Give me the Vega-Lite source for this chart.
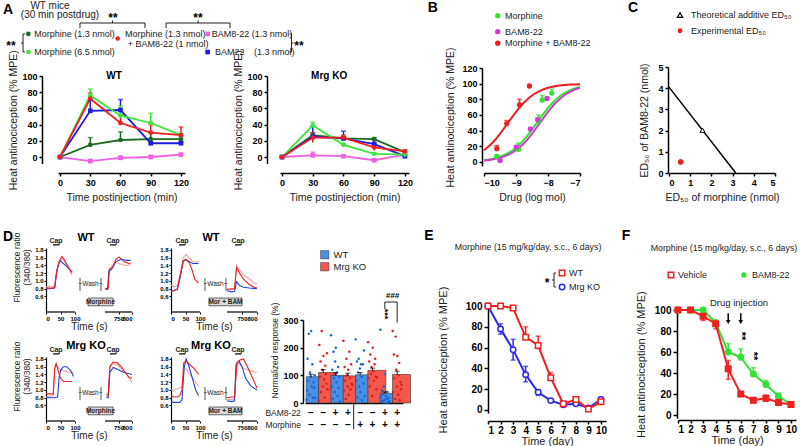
{
"$schema":"https://vega.github.io/schema/vega-lite/v6.json",
"background":"white",
"padding":{"left":2,"top":0,"right":0,"bottom":0},
"config":{
 "font":"Liberation Sans",
 "view":{"stroke":null},
 "axis":{"grid":false,"labelOverlap":false,"tickCount":20,"domainColor":"#000","domainWidth":1.5,"tickColor":"#000","tickWidth":1.5,"tickSize":3,"labelColor":"#000","labelFontWeight":"bold","labelFontSize":9,"labelPadding":2,"titleFontWeight":"normal","titleFontSize":10.5,"titleColor":"#222","labelFont":"Liberation Sans","titleFont":"Liberation Sans"},
 "text":{"font":"Liberation Sans","color":"#222"},
 "title":{"font":"Liberation Sans","color":"#000"},
 "legend":{"labelFont":"Liberation Sans","labelColor":"#222"}
},
"datasets":{
"A":[
{"p":"WT","s":"M13","t":0,"v":0,"lo":0,"hi":0},{"p":"WT","s":"M13","t":30,"v":15,"lo":15,"hi":24},{"p":"WT","s":"M13","t":60,"v":21,"lo":21,"hi":31},{"p":"WT","s":"M13","t":90,"v":22,"lo":22,"hi":30},{"p":"WT","s":"M13","t":120,"v":22,"lo":22,"hi":25},
{"p":"WT","s":"B8","t":0,"v":0,"lo":0,"hi":0},{"p":"WT","s":"B8","t":30,"v":-5,"lo":-5,"hi":-3},{"p":"WT","s":"B8","t":60,"v":-1,"lo":-1,"hi":1},{"p":"WT","s":"B8","t":90,"v":0,"lo":0,"hi":2},{"p":"WT","s":"B8","t":120,"v":3,"lo":3,"hi":4},
{"p":"WT","s":"B22","t":0,"v":0,"lo":0,"hi":0},{"p":"WT","s":"B22","t":30,"v":57,"lo":57,"hi":70},{"p":"WT","s":"B22","t":60,"v":58,"lo":58,"hi":71},{"p":"WT","s":"B22","t":90,"v":17,"lo":17,"hi":22},{"p":"WT","s":"B22","t":120,"v":17,"lo":17,"hi":19},
{"p":"WT","s":"M65","t":0,"v":0,"lo":0,"hi":0},{"p":"WT","s":"M65","t":30,"v":76,"lo":76,"hi":84},{"p":"WT","s":"M65","t":60,"v":51,"lo":51,"hi":63},{"p":"WT","s":"M65","t":90,"v":42,"lo":42,"hi":54},{"p":"WT","s":"M65","t":120,"v":27,"lo":27,"hi":29},
{"p":"WT","s":"MB","t":0,"v":0,"lo":0,"hi":0},{"p":"WT","s":"MB","t":30,"v":72,"lo":72,"hi":79},{"p":"WT","s":"MB","t":60,"v":42,"lo":42,"hi":52},{"p":"WT","s":"MB","t":90,"v":30,"lo":30,"hi":40},{"p":"WT","s":"MB","t":120,"v":27,"lo":27,"hi":37},
{"p":"KO","s":"M13","t":0,"v":0,"lo":0,"hi":0},{"p":"KO","s":"M13","t":30,"v":27,"lo":27,"hi":30},{"p":"KO","s":"M13","t":60,"v":23,"lo":23,"hi":25},{"p":"KO","s":"M13","t":90,"v":22,"lo":22,"hi":24},{"p":"KO","s":"M13","t":120,"v":6,"lo":6,"hi":8},
{"p":"KO","s":"B8","t":0,"v":0,"lo":0,"hi":0},{"p":"KO","s":"B8","t":30,"v":2,"lo":2,"hi":6},{"p":"KO","s":"B8","t":60,"v":1,"lo":1,"hi":2},{"p":"KO","s":"B8","t":90,"v":-4,"lo":-4,"hi":-2},{"p":"KO","s":"B8","t":120,"v":3,"lo":3,"hi":4},
{"p":"KO","s":"B22","t":0,"v":0,"lo":0,"hi":0},{"p":"KO","s":"B22","t":30,"v":25,"lo":25,"hi":38},{"p":"KO","s":"B22","t":60,"v":23,"lo":23,"hi":32},{"p":"KO","s":"B22","t":90,"v":16,"lo":16,"hi":22},{"p":"KO","s":"B22","t":120,"v":1,"lo":1,"hi":2},
{"p":"KO","s":"M65","t":0,"v":0,"lo":0,"hi":0},{"p":"KO","s":"M65","t":30,"v":39,"lo":39,"hi":43},{"p":"KO","s":"M65","t":60,"v":15,"lo":15,"hi":17},{"p":"KO","s":"M65","t":90,"v":4,"lo":4,"hi":5},{"p":"KO","s":"M65","t":120,"v":3,"lo":3,"hi":4},
{"p":"KO","s":"MB","t":0,"v":0,"lo":0,"hi":0},{"p":"KO","s":"MB","t":30,"v":24,"lo":18,"hi":30},{"p":"KO","s":"MB","t":60,"v":24,"lo":24,"hi":27},{"p":"KO","s":"MB","t":90,"v":12,"lo":8,"hi":18},{"p":"KO","s":"MB","t":120,"v":7,"lo":7,"hi":9}
],
"Bc":[
{"s":"Mor","x":-10,"v":2.2},{"s":"Mor","x":-9.75,"v":3.8},{"s":"Mor","x":-9.5,"v":6.6},{"s":"Mor","x":-9.25,"v":11.2},{"s":"Mor","x":-9,"v":18.3},{"s":"Mor","x":-8.75,"v":28.5},{"s":"Mor","x":-8.5,"v":41.5},{"s":"Mor","x":-8.25,"v":55.7},{"s":"Mor","x":-8,"v":69.1},{"s":"Mor","x":-7.75,"v":79.9},{"s":"Mor","x":-7.5,"v":87.6},{"s":"Mor","x":-7.25,"v":92.6},{"s":"Mor","x":-7,"v":95.7},
{"s":"BAM","x":-10,"v":1.7},{"s":"BAM","x":-9.75,"v":3.1},{"s":"BAM","x":-9.5,"v":5.3},{"s":"BAM","x":-9.25,"v":9.1},{"s":"BAM","x":-9,"v":15.1},{"s":"BAM","x":-8.75,"v":24},{"s":"BAM","x":-8.5,"v":36},{"s":"BAM","x":-8.25,"v":50},{"s":"BAM","x":-8,"v":64},{"s":"BAM","x":-7.75,"v":76},{"s":"BAM","x":-7.5,"v":84.9},{"s":"BAM","x":-7.25,"v":90.9},{"s":"BAM","x":-7,"v":94.7},
{"s":"MB","x":-10,"v":15.1},{"s":"MB","x":-9.75,"v":24},{"s":"MB","x":-9.5,"v":36},{"s":"MB","x":-9.25,"v":50},{"s":"MB","x":-9,"v":64},{"s":"MB","x":-8.75,"v":76},{"s":"MB","x":-8.5,"v":84.9},{"s":"MB","x":-8.25,"v":90.9},{"s":"MB","x":-8,"v":94.7},{"s":"MB","x":-7.75,"v":96.9},{"s":"MB","x":-7.5,"v":98.3},{"s":"MB","x":-7.25,"v":99},{"s":"MB","x":-7,"v":99.4}
],
"Bp":[
{"s":"Mor","x":-9.6,"v":7,"hi":9},{"s":"Mor","x":-8.92,"v":16,"hi":24},{"s":"Mor","x":-8.3,"v":52,"hi":60},{"s":"Mor","x":-8.18,"v":79,"hi":85},{"s":"Mor","x":-7.88,"v":88,"hi":93},
{"s":"BAM","x":-9.5,"v":2,"hi":3},{"s":"BAM","x":-8.99,"v":19,"hi":21},{"s":"BAM","x":-8.55,"v":42,"hi":44},{"s":"BAM","x":-8.32,"v":54,"hi":56},{"s":"BAM","x":-8.03,"v":81,"hi":83},
{"s":"MB","x":-9.6,"v":17,"hi":21},{"s":"MB","x":-9.29,"v":49,"hi":53},{"s":"MB","x":-8.89,"v":73,"hi":80},{"s":"MB","x":-8.58,"v":97,"hi":97}
],
"Cl":[{"m":0,"b":4.05},{"m":3.15,"b":0}],
"Cp":[{"k":"Theoretical","m":1.58,"b":2.02},{"k":"Experimental","m":0.55,"b":0.52}],
"D":[
{"p":"TL","c":"c2","g":"a","t":0,"v":0.85},{"p":"TL","c":"c2","g":"a","t":10,"v":0.86},{"p":"TL","c":"c2","g":"a","t":20,"v":0.84},{"p":"TL","c":"c2","g":"a","t":30,"v":0.88},{"p":"TL","c":"c2","g":"a","t":38,"v":1.3},{"p":"TL","c":"c2","g":"a","t":45,"v":1.5},{"p":"TL","c":"c2","g":"a","t":55,"v":1.58},{"p":"TL","c":"c2","g":"a","t":65,"v":1.5},{"p":"TL","c":"c2","g":"a","t":75,"v":1.4},{"p":"TL","c":"c2","g":"a","t":88,"v":1.15},
{"p":"TL","c":"c3","g":"a","t":0,"v":0.8},{"p":"TL","c":"c3","g":"a","t":10,"v":0.8},{"p":"TL","c":"c3","g":"a","t":20,"v":0.81},{"p":"TL","c":"c3","g":"a","t":30,"v":0.82},{"p":"TL","c":"c3","g":"a","t":36,"v":1.2},{"p":"TL","c":"c3","g":"a","t":44,"v":1.45},{"p":"TL","c":"c3","g":"a","t":50,"v":1.52},{"p":"TL","c":"c3","g":"a","t":60,"v":1.45},{"p":"TL","c":"c3","g":"a","t":75,"v":1.35},{"p":"TL","c":"c3","g":"a","t":90,"v":1.22},
{"p":"TL","c":"c1","g":"a","t":0,"v":0.82},{"p":"TL","c":"c1","g":"a","t":10,"v":0.82},{"p":"TL","c":"c1","g":"a","t":20,"v":0.81},{"p":"TL","c":"c1","g":"a","t":30,"v":0.83},{"p":"TL","c":"c1","g":"a","t":37,"v":1.25},{"p":"TL","c":"c1","g":"a","t":45,"v":1.5},{"p":"TL","c":"c1","g":"a","t":55,"v":1.63},{"p":"TL","c":"c1","g":"a","t":63,"v":1.55},{"p":"TL","c":"c1","g":"a","t":75,"v":1.38},{"p":"TL","c":"c1","g":"a","t":90,"v":1.22},
{"p":"TL","c":"c2","g":"b","t":700,"v":0.82},{"p":"TL","c":"c2","g":"b","t":710,"v":0.8},{"p":"TL","c":"c2","g":"b","t":716,"v":1.3},{"p":"TL","c":"c2","g":"b","t":725,"v":1.38},{"p":"TL","c":"c2","g":"b","t":740,"v":1.48},{"p":"TL","c":"c2","g":"b","t":752,"v":1.45},{"p":"TL","c":"c2","g":"b","t":765,"v":1.42},{"p":"TL","c":"c2","g":"b","t":780,"v":1.4},{"p":"TL","c":"c2","g":"b","t":795,"v":1.42},
{"p":"TL","c":"c3","g":"b","t":700,"v":0.8},{"p":"TL","c":"c3","g":"b","t":710,"v":0.78},{"p":"TL","c":"c3","g":"b","t":714,"v":1.25},{"p":"TL","c":"c3","g":"b","t":725,"v":1.3},{"p":"TL","c":"c3","g":"b","t":740,"v":1.5},{"p":"TL","c":"c3","g":"b","t":760,"v":1.56},{"p":"TL","c":"c3","g":"b","t":780,"v":1.53},{"p":"TL","c":"c3","g":"b","t":795,"v":1.53},
{"p":"TL","c":"c1","g":"b","t":700,"v":0.8},{"p":"TL","c":"c1","g":"b","t":712,"v":0.82},{"p":"TL","c":"c1","g":"b","t":716,"v":1.3},{"p":"TL","c":"c1","g":"b","t":728,"v":1.35},{"p":"TL","c":"c1","g":"b","t":740,"v":1.55},{"p":"TL","c":"c1","g":"b","t":752,"v":1.62},{"p":"TL","c":"c1","g":"b","t":770,"v":1.5},{"p":"TL","c":"c1","g":"b","t":785,"v":1.46},{"p":"TL","c":"c1","g":"b","t":795,"v":1.45},
{"p":"TR","c":"c2","g":"a","t":0,"v":0.9},{"p":"TR","c":"c2","g":"a","t":10,"v":0.85},{"p":"TR","c":"c2","g":"a","t":22,"v":0.88},{"p":"TR","c":"c2","g":"a","t":32,"v":1.2},{"p":"TR","c":"c2","g":"a","t":42,"v":1.6},{"p":"TR","c":"c2","g":"a","t":52,"v":1.68},{"p":"TR","c":"c2","g":"a","t":62,"v":1.6},{"p":"TR","c":"c2","g":"a","t":75,"v":1.5},{"p":"TR","c":"c2","g":"a","t":88,"v":1.48},{"p":"TR","c":"c2","g":"a","t":95,"v":1.5},
{"p":"TR","c":"c3","g":"a","t":0,"v":0.75},{"p":"TR","c":"c3","g":"a","t":10,"v":0.76},{"p":"TR","c":"c3","g":"a","t":22,"v":0.78},{"p":"TR","c":"c3","g":"a","t":32,"v":1.1},{"p":"TR","c":"c3","g":"a","t":42,"v":1.52},{"p":"TR","c":"c3","g":"a","t":52,"v":1.55},{"p":"TR","c":"c3","g":"a","t":62,"v":1.5},{"p":"TR","c":"c3","g":"a","t":75,"v":1.45},{"p":"TR","c":"c3","g":"a","t":90,"v":1.45},{"p":"TR","c":"c3","g":"a","t":95,"v":1.45},
{"p":"TR","c":"c1","g":"a","t":0,"v":0.72},{"p":"TR","c":"c1","g":"a","t":10,"v":0.75},{"p":"TR","c":"c1","g":"a","t":22,"v":0.8},{"p":"TR","c":"c1","g":"a","t":32,"v":1.15},{"p":"TR","c":"c1","g":"a","t":42,"v":1.5},{"p":"TR","c":"c1","g":"a","t":50,"v":1.56},{"p":"TR","c":"c1","g":"a","t":62,"v":1.48},{"p":"TR","c":"c1","g":"a","t":72,"v":1.3},{"p":"TR","c":"c1","g":"a","t":82,"v":1.05},{"p":"TR","c":"c1","g":"a","t":90,"v":0.98},{"p":"TR","c":"c1","g":"a","t":95,"v":0.95},
{"p":"TR","c":"c2","g":"b","t":700,"v":0.8},{"p":"TR","c":"c2","g":"b","t":715,"v":0.78},{"p":"TR","c":"c2","g":"b","t":725,"v":0.8},{"p":"TR","c":"c2","g":"b","t":732,"v":1.4},{"p":"TR","c":"c2","g":"b","t":740,"v":1.3},{"p":"TR","c":"c2","g":"b","t":755,"v":1.15},{"p":"TR","c":"c2","g":"b","t":775,"v":1.05},{"p":"TR","c":"c2","g":"b","t":790,"v":0.95},{"p":"TR","c":"c2","g":"b","t":800,"v":0.92},
{"p":"TR","c":"c3","g":"b","t":700,"v":0.75},{"p":"TR","c":"c3","g":"b","t":715,"v":0.72},{"p":"TR","c":"c3","g":"b","t":725,"v":0.73},{"p":"TR","c":"c3","g":"b","t":732,"v":0.98},{"p":"TR","c":"c3","g":"b","t":742,"v":0.88},{"p":"TR","c":"c3","g":"b","t":755,"v":0.84},{"p":"TR","c":"c3","g":"b","t":775,"v":0.82},{"p":"TR","c":"c3","g":"b","t":800,"v":0.8},
{"p":"TR","c":"c1","g":"b","t":700,"v":0.78},{"p":"TR","c":"c1","g":"b","t":715,"v":0.8},{"p":"TR","c":"c1","g":"b","t":725,"v":0.8},{"p":"TR","c":"c1","g":"b","t":732,"v":1.35},{"p":"TR","c":"c1","g":"b","t":742,"v":1.2},{"p":"TR","c":"c1","g":"b","t":755,"v":1.05},{"p":"TR","c":"c1","g":"b","t":775,"v":0.9},{"p":"TR","c":"c1","g":"b","t":790,"v":0.84},{"p":"TR","c":"c1","g":"b","t":800,"v":0.82},
{"p":"BL","c":"c2","g":"a","t":0,"v":0.82},{"p":"BL","c":"c2","g":"a","t":15,"v":0.84},{"p":"BL","c":"c2","g":"a","t":25,"v":0.85},{"p":"BL","c":"c2","g":"a","t":30,"v":1.5},{"p":"BL","c":"c2","g":"a","t":35,"v":1.65},{"p":"BL","c":"c2","g":"a","t":45,"v":1.55},{"p":"BL","c":"c2","g":"a","t":55,"v":1.5},{"p":"BL","c":"c2","g":"a","t":70,"v":1.48},{"p":"BL","c":"c2","g":"a","t":85,"v":1.45},{"p":"BL","c":"c2","g":"a","t":95,"v":1.45},
{"p":"BL","c":"c3","g":"a","t":0,"v":0.8},{"p":"BL","c":"c3","g":"a","t":15,"v":0.8},{"p":"BL","c":"c3","g":"a","t":30,"v":0.8},{"p":"BL","c":"c3","g":"a","t":40,"v":0.82},{"p":"BL","c":"c3","g":"a","t":45,"v":1.3},{"p":"BL","c":"c3","g":"a","t":50,"v":1.5},{"p":"BL","c":"c3","g":"a","t":60,"v":1.6},{"p":"BL","c":"c3","g":"a","t":72,"v":1.6},{"p":"BL","c":"c3","g":"a","t":85,"v":1.5},{"p":"BL","c":"c3","g":"a","t":95,"v":1.35},
{"p":"BL","c":"c1","g":"a","t":0,"v":0.9},{"p":"BL","c":"c1","g":"a","t":15,"v":0.9},{"p":"BL","c":"c1","g":"a","t":25,"v":0.9},{"p":"BL","c":"c1","g":"a","t":30,"v":1.55},{"p":"BL","c":"c1","g":"a","t":35,"v":1.68},{"p":"BL","c":"c1","g":"a","t":42,"v":1.5},{"p":"BL","c":"c1","g":"a","t":50,"v":1.3},{"p":"BL","c":"c1","g":"a","t":60,"v":1.22},{"p":"BL","c":"c1","g":"a","t":75,"v":1.22},{"p":"BL","c":"c1","g":"a","t":90,"v":1.22},
{"p":"BL","c":"c2","g":"b","t":705,"v":0.92},{"p":"BL","c":"c2","g":"b","t":712,"v":0.9},{"p":"BL","c":"c2","g":"b","t":718,"v":1.6},{"p":"BL","c":"c2","g":"b","t":730,"v":1.68},{"p":"BL","c":"c2","g":"b","t":745,"v":1.65},{"p":"BL","c":"c2","g":"b","t":760,"v":1.55},{"p":"BL","c":"c2","g":"b","t":775,"v":1.45},{"p":"BL","c":"c2","g":"b","t":790,"v":1.3},{"p":"BL","c":"c2","g":"b","t":800,"v":1.18},
{"p":"BL","c":"c3","g":"b","t":705,"v":0.82},{"p":"BL","c":"c3","g":"b","t":712,"v":0.8},{"p":"BL","c":"c3","g":"b","t":718,"v":1.45},{"p":"BL","c":"c3","g":"b","t":730,"v":1.58},{"p":"BL","c":"c3","g":"b","t":750,"v":1.52},{"p":"BL","c":"c3","g":"b","t":770,"v":1.45},{"p":"BL","c":"c3","g":"b","t":790,"v":1.42},{"p":"BL","c":"c3","g":"b","t":800,"v":1.4},
{"p":"BL","c":"c1","g":"b","t":705,"v":0.88},{"p":"BL","c":"c1","g":"b","t":712,"v":0.85},{"p":"BL","c":"c1","g":"b","t":718,"v":1.6},{"p":"BL","c":"c1","g":"b","t":730,"v":1.72},{"p":"BL","c":"c1","g":"b","t":745,"v":1.7},{"p":"BL","c":"c1","g":"b","t":760,"v":1.6},{"p":"BL","c":"c1","g":"b","t":775,"v":1.45},{"p":"BL","c":"c1","g":"b","t":790,"v":1.32},{"p":"BL","c":"c1","g":"b","t":800,"v":1.3},
{"p":"BR","c":"c2","g":"a","t":0,"v":1.0},{"p":"BR","c":"c2","g":"a","t":10,"v":1.0},{"p":"BR","c":"c2","g":"a","t":20,"v":1.02},{"p":"BR","c":"c2","g":"a","t":30,"v":1.05},{"p":"BR","c":"c2","g":"a","t":38,"v":1.1},{"p":"BR","c":"c2","g":"a","t":45,"v":1.5},{"p":"BR","c":"c2","g":"a","t":52,"v":1.55},{"p":"BR","c":"c2","g":"a","t":65,"v":1.4},{"p":"BR","c":"c2","g":"a","t":80,"v":1.25},{"p":"BR","c":"c2","g":"a","t":95,"v":1.1},
{"p":"BR","c":"c3","g":"a","t":0,"v":0.7},{"p":"BR","c":"c3","g":"a","t":10,"v":0.68},{"p":"BR","c":"c3","g":"a","t":20,"v":0.68},{"p":"BR","c":"c3","g":"a","t":30,"v":0.68},{"p":"BR","c":"c3","g":"a","t":38,"v":0.75},{"p":"BR","c":"c3","g":"a","t":45,"v":1.55},{"p":"BR","c":"c3","g":"a","t":52,"v":1.8},{"p":"BR","c":"c3","g":"a","t":60,"v":1.65},{"p":"BR","c":"c3","g":"a","t":70,"v":1.4},{"p":"BR","c":"c3","g":"a","t":85,"v":1.0},{"p":"BR","c":"c3","g":"a","t":95,"v":0.85},
{"p":"BR","c":"c1","g":"a","t":0,"v":0.85},{"p":"BR","c":"c1","g":"a","t":10,"v":0.82},{"p":"BR","c":"c1","g":"a","t":20,"v":0.82},{"p":"BR","c":"c1","g":"a","t":30,"v":0.85},{"p":"BR","c":"c1","g":"a","t":38,"v":1.0},{"p":"BR","c":"c1","g":"a","t":44,"v":1.7},{"p":"BR","c":"c1","g":"a","t":52,"v":1.75},{"p":"BR","c":"c1","g":"a","t":65,"v":1.65},{"p":"BR","c":"c1","g":"a","t":80,"v":1.55},{"p":"BR","c":"c1","g":"a","t":95,"v":1.4},
{"p":"BR","c":"c2","g":"b","t":700,"v":0.76},{"p":"BR","c":"c2","g":"b","t":715,"v":0.75},{"p":"BR","c":"c2","g":"b","t":725,"v":0.78},{"p":"BR","c":"c2","g":"b","t":732,"v":1.6},{"p":"BR","c":"c2","g":"b","t":740,"v":1.7},{"p":"BR","c":"c2","g":"b","t":755,"v":1.55},{"p":"BR","c":"c2","g":"b","t":770,"v":1.52},{"p":"BR","c":"c2","g":"b","t":785,"v":1.48},{"p":"BR","c":"c2","g":"b","t":800,"v":1.45},
{"p":"BR","c":"c3","g":"b","t":700,"v":0.72},{"p":"BR","c":"c3","g":"b","t":715,"v":0.7},{"p":"BR","c":"c3","g":"b","t":725,"v":0.72},{"p":"BR","c":"c3","g":"b","t":730,"v":1.65},{"p":"BR","c":"c3","g":"b","t":740,"v":1.75},{"p":"BR","c":"c3","g":"b","t":750,"v":1.6},{"p":"BR","c":"c3","g":"b","t":762,"v":1.3},{"p":"BR","c":"c3","g":"b","t":780,"v":1.1},{"p":"BR","c":"c3","g":"b","t":800,"v":1.0},
{"p":"BR","c":"c1","g":"b","t":700,"v":0.8},{"p":"BR","c":"c1","g":"b","t":715,"v":0.82},{"p":"BR","c":"c1","g":"b","t":725,"v":0.82},{"p":"BR","c":"c1","g":"b","t":733,"v":1.7},{"p":"BR","c":"c1","g":"b","t":745,"v":1.78},{"p":"BR","c":"c1","g":"b","t":755,"v":1.8},{"p":"BR","c":"c1","g":"b","t":765,"v":1.65},{"p":"BR","c":"c1","g":"b","t":780,"v":1.4},{"p":"BR","c":"c1","g":"b","t":800,"v":1.05}
],
"Dm":[
{"b":"1","g":"WT","m":95,"hi":104,"bam":"–","mor":"–"},{"b":"2","g":"Mrg KO","m":110,"hi":121,"bam":"–","mor":"–"},{"b":"3","g":"WT","m":100,"hi":109,"bam":"+","mor":"–"},{"b":"4","g":"Mrg KO","m":98,"hi":108,"bam":"+","mor":"–"},
{"b":"5","g":"WT","m":102,"hi":110,"bam":"–","mor":"+"},{"b":"6","g":"Mrg KO","m":118,"hi":126,"bam":"–","mor":"+"},{"b":"7","g":"WT","m":35,"hi":40,"bam":"+","mor":"+"},{"b":"8","g":"Mrg KO","m":103,"hi":115,"bam":"+","mor":"+"}
],
"Dd":[
{"b":"1","g":"WT","c":1,"v":12},{"b":"1","g":"WT","c":2,"v":45},{"b":"1","g":"WT","c":3,"v":160},{"b":"1","g":"WT","c":4,"v":80},{"b":"1","g":"WT","c":5,"v":250},{"b":"1","g":"WT","c":6,"v":30},{"b":"1","g":"WT","c":7,"v":110},{"b":"1","g":"WT","c":8,"v":95},{"b":"1","g":"WT","c":9,"v":260},{"b":"1","g":"WT","c":10,"v":60},{"b":"1","g":"WT","c":11,"v":140},{"b":"1","g":"WT","c":12,"v":20},{"b":"1","g":"WT","c":13,"v":75},{"b":"1","g":"WT","c":14,"v":55},{"b":"1","g":"WT","c":15,"v":100},{"b":"1","g":"WT","c":16,"v":18},
{"b":"2","g":"Mrg KO","c":1,"v":8},{"b":"2","g":"Mrg KO","c":2,"v":210},{"b":"2","g":"Mrg KO","c":3,"v":95},{"b":"2","g":"Mrg KO","c":4,"v":150},{"b":"2","g":"Mrg KO","c":5,"v":40},{"b":"2","g":"Mrg KO","c":6,"v":260},{"b":"2","g":"Mrg KO","c":7,"v":120},{"b":"2","g":"Mrg KO","c":8,"v":60},{"b":"2","g":"Mrg KO","c":9,"v":170},{"b":"2","g":"Mrg KO","c":10,"v":85},{"b":"2","g":"Mrg KO","c":11,"v":20},{"b":"2","g":"Mrg KO","c":12,"v":135},{"b":"2","g":"Mrg KO","c":13,"v":105},{"b":"2","g":"Mrg KO","c":14,"v":70},{"b":"2","g":"Mrg KO","c":15,"v":180},{"b":"2","g":"Mrg KO","c":16,"v":50},
{"b":"3","g":"WT","c":1,"v":245},{"b":"3","g":"WT","c":2,"v":60},{"b":"3","g":"WT","c":3,"v":120},{"b":"3","g":"WT","c":4,"v":15},{"b":"3","g":"WT","c":5,"v":185},{"b":"3","g":"WT","c":6,"v":90},{"b":"3","g":"WT","c":7,"v":40},{"b":"3","g":"WT","c":8,"v":150},{"b":"3","g":"WT","c":9,"v":200},{"b":"3","g":"WT","c":10,"v":75},{"b":"3","g":"WT","c":11,"v":110},{"b":"3","g":"WT","c":12,"v":25},{"b":"3","g":"WT","c":13,"v":130},{"b":"3","g":"WT","c":14,"v":55},{"b":"3","g":"WT","c":15,"v":95},{"b":"3","g":"WT","c":16,"v":5},
{"b":"4","g":"Mrg KO","c":1,"v":225},{"b":"4","g":"Mrg KO","c":2,"v":45},{"b":"4","g":"Mrg KO","c":3,"v":130},{"b":"4","g":"Mrg KO","c":4,"v":80},{"b":"4","g":"Mrg KO","c":5,"v":15},{"b":"4","g":"Mrg KO","c":6,"v":160},{"b":"4","g":"Mrg KO","c":7,"v":100},{"b":"4","g":"Mrg KO","c":8,"v":60},{"b":"4","g":"Mrg KO","c":9,"v":120},{"b":"4","g":"Mrg KO","c":10,"v":30},{"b":"4","g":"Mrg KO","c":11,"v":185},{"b":"4","g":"Mrg KO","c":12,"v":90},{"b":"4","g":"Mrg KO","c":13,"v":50},{"b":"4","g":"Mrg KO","c":14,"v":140},{"b":"4","g":"Mrg KO","c":15,"v":70},{"b":"4","g":"Mrg KO","c":16,"v":65},
{"b":"5","g":"WT","c":1,"v":230},{"b":"5","g":"WT","c":2,"v":80},{"b":"5","g":"WT","c":3,"v":150},{"b":"5","g":"WT","c":4,"v":20},{"b":"5","g":"WT","c":5,"v":110},{"b":"5","g":"WT","c":6,"v":160},{"b":"5","g":"WT","c":7,"v":60},{"b":"5","g":"WT","c":8,"v":125},{"b":"5","g":"WT","c":9,"v":40},{"b":"5","g":"WT","c":10,"v":140},{"b":"5","g":"WT","c":11,"v":95},{"b":"5","g":"WT","c":12,"v":10},{"b":"5","g":"WT","c":13,"v":140},{"b":"5","g":"WT","c":14,"v":70},{"b":"5","g":"WT","c":15,"v":190},{"b":"5","g":"WT","c":16,"v":25},
{"b":"6","g":"Mrg KO","c":1,"v":220},{"b":"6","g":"Mrg KO","c":2,"v":90},{"b":"6","g":"Mrg KO","c":3,"v":150},{"b":"6","g":"Mrg KO","c":4,"v":60},{"b":"6","g":"Mrg KO","c":5,"v":175},{"b":"6","g":"Mrg KO","c":6,"v":105},{"b":"6","g":"Mrg KO","c":7,"v":130},{"b":"6","g":"Mrg KO","c":8,"v":25},{"b":"6","g":"Mrg KO","c":9,"v":200},{"b":"6","g":"Mrg KO","c":10,"v":115},{"b":"6","g":"Mrg KO","c":11,"v":80},{"b":"6","g":"Mrg KO","c":12,"v":140},{"b":"6","g":"Mrg KO","c":13,"v":160},{"b":"6","g":"Mrg KO","c":14,"v":95},{"b":"6","g":"Mrg KO","c":15,"v":50},{"b":"6","g":"Mrg KO","c":16,"v":93},
{"b":"7","g":"WT","c":1,"v":265},{"b":"7","g":"WT","c":2,"v":20},{"b":"7","g":"WT","c":3,"v":5},{"b":"7","g":"WT","c":4,"v":45},{"b":"7","g":"WT","c":5,"v":30},{"b":"7","g":"WT","c":6,"v":8},{"b":"7","g":"WT","c":7,"v":60},{"b":"7","g":"WT","c":8,"v":12},{"b":"7","g":"WT","c":9,"v":105},{"b":"7","g":"WT","c":10,"v":25},{"b":"7","g":"WT","c":11,"v":0},{"b":"7","g":"WT","c":12,"v":15},{"b":"7","g":"WT","c":13,"v":40},{"b":"7","g":"WT","c":14,"v":3},{"b":"7","g":"WT","c":15,"v":18},{"b":"7","g":"WT","c":16,"v":6},
{"b":"8","g":"Mrg KO","c":1,"v":260},{"b":"8","g":"Mrg KO","c":2,"v":40},{"b":"8","g":"Mrg KO","c":3,"v":175},{"b":"8","g":"Mrg KO","c":4,"v":90},{"b":"8","g":"Mrg KO","c":5,"v":15},{"b":"8","g":"Mrg KO","c":6,"v":240},{"b":"8","g":"Mrg KO","c":7,"v":120},{"b":"8","g":"Mrg KO","c":8,"v":60},{"b":"8","g":"Mrg KO","c":9,"v":170},{"b":"8","g":"Mrg KO","c":10,"v":30},{"b":"8","g":"Mrg KO","c":11,"v":100},{"b":"8","g":"Mrg KO","c":12,"v":145},{"b":"8","g":"Mrg KO","c":13,"v":10},{"b":"8","g":"Mrg KO","c":14,"v":75},{"b":"8","g":"Mrg KO","c":15,"v":50},{"b":"8","g":"Mrg KO","c":16,"v":65}
],
"E":[
{"g":"KO","d":1,"v":100,"lo":100,"hi":100},{"g":"KO","d":2,"v":78,"lo":73,"hi":83},{"g":"KO","d":3,"v":58,"lo":48,"hi":68},{"g":"KO","d":4,"v":34,"lo":27,"hi":42},{"g":"KO","d":5,"v":17,"lo":14,"hi":19},{"g":"KO","d":6,"v":9,"lo":8,"hi":10},{"g":"KO","d":7,"v":5,"lo":4,"hi":6},{"g":"KO","d":8,"v":6,"lo":5,"hi":7},{"g":"KO","d":9,"v":2,"lo":1,"hi":3},{"g":"KO","d":10,"v":10,"lo":9,"hi":12},
{"g":"WT","d":1,"v":100,"lo":100,"hi":100},{"g":"WT","d":2,"v":100,"lo":100,"hi":100},{"g":"WT","d":3,"v":98,"lo":97,"hi":99},{"g":"WT","d":4,"v":70,"lo":68,"hi":80},{"g":"WT","d":5,"v":62,"lo":59,"hi":71},{"g":"WT","d":6,"v":31,"lo":29,"hi":36},{"g":"WT","d":7,"v":6,"lo":5,"hi":8},{"g":"WT","d":8,"v":10,"lo":8,"hi":12},{"g":"WT","d":9,"v":1,"lo":0,"hi":2},{"g":"WT","d":10,"v":8,"lo":7,"hi":10}
],
"F":[
{"g":"BAM","d":1,"v":100,"lo":100,"hi":100},{"g":"BAM","d":2,"v":100,"lo":100,"hi":100},{"g":"BAM","d":3,"v":100,"lo":100,"hi":100},{"g":"BAM","d":4,"v":88,"lo":86,"hi":89},{"g":"BAM","d":5,"v":60,"lo":58,"hi":68},{"g":"BAM","d":6,"v":55,"lo":53,"hi":63},{"g":"BAM","d":7,"v":39,"lo":37,"hi":45},{"g":"BAM","d":8,"v":29,"lo":27,"hi":33},{"g":"BAM","d":9,"v":18,"lo":16,"hi":21},{"g":"BAM","d":10,"v":10,"lo":9,"hi":11},
{"g":"Veh","d":1,"v":100,"lo":100,"hi":100},{"g":"Veh","d":2,"v":100,"lo":100,"hi":100},{"g":"Veh","d":3,"v":94,"lo":90,"hi":97},{"g":"Veh","d":4,"v":87,"lo":82,"hi":90},{"g":"Veh","d":5,"v":44,"lo":34,"hi":52},{"g":"Veh","d":6,"v":20,"lo":18,"hi":22},{"g":"Veh","d":7,"v":14,"lo":12,"hi":16},{"g":"Veh","d":8,"v":16,"lo":13,"hi":19},{"g":"Veh","d":9,"v":12,"lo":10,"hi":13},{"g":"Veh","d":10,"v":10,"lo":9,"hi":11}
]
},
"bounds":"full",
"spacing":25,
"resolve":{"scale":{"color":"independent","fill":"independent","stroke":"independent","shape":"independent"},"legend":{"color":"independent","fill":"independent","stroke":"independent","shape":"independent"}},
"vconcat":[
{"bounds":"flush","spacing":70,
 "resolve":{"scale":{"color":"independent","fill":"independent","stroke":"independent","shape":"independent"},"legend":{"color":"independent","fill":"independent","stroke":"independent","shape":"independent"}},
 "hconcat":[
 {"width":155,"height":111,
  "layer":[
   {"data":{"name":"A"},"transform":[{"filter":"datum.p == 'WT'"}],
    "encoding":{
     "x":{"field":"t","type":"quantitative","scale":{"domain":[-2,124],"range":[16,143],"nice":false,"zero":false},"axis":{"values":[0,30,60,90,120],"format":"d","tickCount":20,"labelOverlap":false,"title":"Time postinjection (min)","titlePadding":5}},
     "y":{"field":"v","type":"quantitative","scale":{"domain":[-8,100],"range":[101.5,14],"nice":false,"zero":false},"axis":{"values":[0,20,40,60,80,100],"format":"d","tickCount":20,"labelOverlap":false,"title":"Heat antinociception (% MPE)","titlePadding":3}},
     "color":{"field":"s","type":"nominal","scale":{"domain":["M13","M65","MB","B8","B22"],"range":["#1b6b1f","#3be63b","#f01e1e","#f060e0","#1c1ce6"]},"legend":null}},
    "layer":[
     {"mark":{"type":"line","strokeWidth":1.8}},
     {"mark":{"type":"rule","strokeWidth":1.5},"encoding":{"y":{"field":"lo","type":"quantitative"},"y2":{"field":"hi"}}},
     {"mark":{"type":"tick","orient":"horizontal","size":5,"thickness":1.5},"encoding":{"y":{"field":"hi","type":"quantitative"}}},
     {"mark":{"type":"point","filled":true,"size":22,"opacity":1},"encoding":{"shape":{"field":"s","type":"nominal","scale":{"domain":["M13","M65","MB","B8","B22"],"range":["circle","circle","circle","square","square"]},"legend":null}}}
    ]},
   {"data":{"values":[{}]},
    "layer":[
     {"mark":{"type":"text","fontSize":14,"fontWeight":"bold","color":"#000","baseline":"middle"},"encoding":{"x":{"datum":-51.6},"y":{"datum":181.5},"text":{"value":"A"}}},
     {"mark":{"type":"text","fontSize":10,"baseline":"middle"},"encoding":{"x":{"datum":-9.9},"y":{"datum":187},"text":{"value":"WT mice"}}},
     {"mark":{"type":"text","fontSize":10,"baseline":"middle"},"encoding":{"x":{"datum":0},"y":{"datum":174.7},"text":{"value":"(30 min postdrug)"}}},
     {"mark":{"type":"text","fontSize":12,"fontWeight":"bold","color":"#000","baseline":"middle"},"encoding":{"x":{"datum":52.6},"y":{"datum":171},"text":{"value":"**"}}},
     {"mark":{"type":"text","fontSize":12,"fontWeight":"bold","color":"#000","baseline":"middle"},"encoding":{"x":{"datum":136.9},"y":{"datum":171},"text":{"value":"**"}}},
     {"mark":{"type":"rule","color":"#222","strokeWidth":1},"encoding":{"x":{"datum":19.8},"x2":{"datum":84.3},"y":{"datum":165.4}}},
     {"mark":{"type":"rule","color":"#222","strokeWidth":1},"encoding":{"x":{"datum":19.8},"y":{"datum":165.4},"y2":{"datum":159.3}}},
     {"mark":{"type":"rule","color":"#222","strokeWidth":1},"encoding":{"x":{"datum":84.3},"y":{"datum":165.4},"y2":{"datum":159.3}}},
     {"mark":{"type":"rule","color":"#222","strokeWidth":1},"encoding":{"x":{"datum":52},"y":{"datum":165.4},"y2":{"datum":168.6}}},
     {"mark":{"type":"rule","color":"#222","strokeWidth":1},"encoding":{"x":{"datum":105.2},"x2":{"datum":168.7},"y":{"datum":165.4}}},
     {"mark":{"type":"rule","color":"#222","strokeWidth":1},"encoding":{"x":{"datum":105.2},"y":{"datum":165.4},"y2":{"datum":159.3}}},
     {"mark":{"type":"rule","color":"#222","strokeWidth":1},"encoding":{"x":{"datum":168.7},"y":{"datum":165.4},"y2":{"datum":159.3}}},
     {"mark":{"type":"rule","color":"#222","strokeWidth":1},"encoding":{"x":{"datum":137},"y":{"datum":165.4},"y2":{"datum":168.6}}},
     {"mark":{"type":"point","filled":true,"size":22,"opacity":1,"color":"#1b6b1f"},"encoding":{"x":{"datum":-31.4},"y":{"datum":151.9}}},
     {"mark":{"type":"text","align":"left","baseline":"middle","fontSize":9},"encoding":{"x":{"datum":-25.5},"y":{"datum":151.9},"text":{"value":"Morphine (1.3 nmol)"}}},
     {"mark":{"type":"point","filled":true,"size":22,"opacity":1,"color":"#3be63b"},"encoding":{"x":{"datum":-31.4},"y":{"datum":129.6}}},
     {"mark":{"type":"text","align":"left","baseline":"middle","fontSize":9},"encoding":{"x":{"datum":-25.5},"y":{"datum":129.6},"text":{"value":"Morphine (6.5 nmol)"}}},
     {"mark":{"type":"point","filled":true,"size":22,"opacity":1,"color":"#f01e1e"},"encoding":{"x":{"datum":57.2},"y":{"datum":146.3}}},
     {"mark":{"type":"text","align":"left","baseline":"middle","fontSize":9},"encoding":{"x":{"datum":64.5},"y":{"datum":151.9},"text":{"value":"Morphine (1.3 nmol)"}}},
     {"mark":{"type":"text","align":"left","baseline":"middle","fontSize":9},"encoding":{"x":{"datum":67.2},"y":{"datum":139.5},"text":{"value":"+ BAM8-22 (1 nmol)"}}},
     {"mark":{"type":"point","filled":true,"size":22,"opacity":1,"shape":"square","color":"#f060e0"},"encoding":{"x":{"datum":146.5},"y":{"datum":151.9}}},
     {"mark":{"type":"text","align":"left","baseline":"middle","fontSize":9},"encoding":{"x":{"datum":150.5},"y":{"datum":151.9},"text":{"value":"BAM8-22 (1.3 nmol)"}}},
     {"mark":{"type":"point","filled":true,"size":22,"opacity":1,"shape":"square","color":"#1c1ce6"},"encoding":{"x":{"datum":146.5},"y":{"datum":129.6}}},
     {"mark":{"type":"text","align":"left","baseline":"middle","fontSize":9},"encoding":{"x":{"datum":153.8},"y":{"datum":129.6},"text":{"value":"BAM22"}}},
     {"mark":{"type":"text","align":"left","baseline":"middle","fontSize":9},"encoding":{"x":{"datum":192.5},"y":{"datum":129.6},"text":{"value":"(1.3 nmol)"}}},
     {"mark":{"type":"text","fontSize":12,"fontWeight":"bold","color":"#000","baseline":"middle"},"encoding":{"x":{"datum":-48.6},"y":{"datum":137.5},"text":{"value":"**"}}},
     {"mark":{"type":"rule","color":"#222","strokeWidth":1},"encoding":{"x":{"datum":-36.7},"y":{"datum":151.9},"y2":{"datum":129.6}}},
     {"mark":{"type":"rule","color":"#222","strokeWidth":1},"encoding":{"x":{"datum":-36.7},"x2":{"datum":-34.7},"y":{"datum":151.9}}},
     {"mark":{"type":"rule","color":"#222","strokeWidth":1},"encoding":{"x":{"datum":-36.7},"x2":{"datum":-34.7},"y":{"datum":129.6}}},
     {"mark":{"type":"rule","color":"#222","strokeWidth":1},"encoding":{"x":{"datum":-38.7},"x2":{"datum":-36.7},"y":{"datum":140.7}}},
     {"mark":{"type":"rule","color":"#222","strokeWidth":1},"encoding":{"x":{"datum":229.7},"y":{"datum":151.9},"y2":{"datum":129.6}}},
     {"mark":{"type":"rule","color":"#222","strokeWidth":1},"encoding":{"x":{"datum":227.7},"x2":{"datum":229.7},"y":{"datum":151.9}}},
     {"mark":{"type":"rule","color":"#222","strokeWidth":1},"encoding":{"x":{"datum":227.7},"x2":{"datum":229.7},"y":{"datum":129.6}}},
     {"mark":{"type":"rule","color":"#222","strokeWidth":1},"encoding":{"x":{"datum":229.7},"x2":{"datum":231.7},"y":{"datum":140.7}}},
     {"mark":{"type":"text","fontSize":12,"fontWeight":"bold","color":"#000","baseline":"middle"},"encoding":{"x":{"datum":237},"y":{"datum":137.5},"text":{"value":"**"}}},
     {"mark":{"type":"text","fontSize":10,"fontWeight":"bold","color":"#000","baseline":"middle"},"encoding":{"x":{"datum":53.6},"y":{"datum":100},"text":{"value":"WT"}}}
    ]}
  ]},
 {"width":145,"height":111,
  "layer":[
   {"data":{"name":"A"},"transform":[{"filter":"datum.p == 'KO'"}],
    "encoding":{
     "x":{"field":"t","type":"quantitative","scale":{"domain":[-2,124],"range":[13,142],"nice":false,"zero":false},"axis":{"values":[0,30,60,90,120],"format":"d","tickCount":20,"labelOverlap":false,"title":"Time postinjection (min)","titlePadding":5}},
     "y":{"field":"v","type":"quantitative","scale":{"domain":[-8,100],"range":[101.5,14],"nice":false,"zero":false},"axis":{"values":[0,20,40,60,80,100],"format":"d","tickCount":20,"labelOverlap":false,"title":"Heat antinociception (% MPE)","titlePadding":3}},
     "color":{"field":"s","type":"nominal","scale":{"domain":["M13","M65","MB","B8","B22"],"range":["#1b6b1f","#3be63b","#f01e1e","#f060e0","#1c1ce6"]},"legend":null}},
    "layer":[
     {"mark":{"type":"line","strokeWidth":1.8}},
     {"mark":{"type":"rule","strokeWidth":1.5},"encoding":{"y":{"field":"lo","type":"quantitative"},"y2":{"field":"hi"}}},
     {"mark":{"type":"tick","orient":"horizontal","size":5,"thickness":1.5},"encoding":{"y":{"field":"hi","type":"quantitative"}}},
     {"mark":{"type":"point","filled":true,"size":22,"opacity":1},"encoding":{"shape":{"field":"s","type":"nominal","scale":{"domain":["M13","M65","MB","B8","B22"],"range":["circle","circle","circle","square","square"]},"legend":null}}}
    ]},
   {"data":{"values":[{}]},
    "layer":[
     {"mark":{"type":"text","fontSize":10,"fontWeight":"bold","color":"#000","baseline":"middle"},"encoding":{"x":{"datum":46},"y":{"datum":100},"text":{"value":"Mrg KO"}}}
    ]}
  ]},
 {"width":116,"height":111,
  "layer":[
   {"data":{"name":"Bc"},"mark":{"type":"line","strokeWidth":2,"interpolate":"monotone"},
    "encoding":{
     "x":{"field":"x","type":"quantitative","scale":{"domain":[-10,-7],"range":[2,98],"nice":false,"zero":false},"axis":{"values":[-10,-9,-8,-7],"format":"d","tickCount":20,"labelOverlap":false,"title":"Drug (log mol)","titlePadding":5}},
     "y":{"field":"v","type":"quantitative","scale":{"domain":[-5,120],"range":[103.9,6],"nice":false,"zero":false},"axis":{"values":[0,20,40,60,80,100,120],"format":"d","tickCount":20,"labelOverlap":false,"title":"Heat antinociception (% MPE)","titlePadding":6}},
     "color":{"field":"s","type":"nominal","scale":{"domain":["Mor","BAM","MB"],"range":["#35e035","#cc3fcc","#f01e1e"]},"legend":null}}},
   {"data":{"name":"Bp"},
    "encoding":{
     "x":{"field":"x","type":"quantitative"},
     "y":{"field":"v","type":"quantitative"},
     "color":{"field":"s","type":"nominal"}},
    "layer":[
     {"mark":{"type":"rule","strokeWidth":1.5},"encoding":{"y2":{"field":"hi"}}},
     {"mark":{"type":"tick","orient":"horizontal","size":5,"thickness":1.5},"encoding":{"y":{"field":"hi","type":"quantitative"}}},
     {"mark":{"type":"point","filled":true,"size":28,"opacity":1}}
    ]},
   {"data":{"values":[{}]},
    "layer":[
     {"mark":{"type":"text","fontSize":14,"fontWeight":"bold","color":"#000","baseline":"middle"},"encoding":{"x":{"datum":-11.6},"y":{"datum":196.7},"text":{"value":"B"}}},
     {"mark":{"type":"point","filled":true,"size":28,"opacity":1,"color":"#35e035"},"encoding":{"x":{"datum":-9.57},"y":{"datum":186.8}}},
     {"mark":{"type":"text","align":"left","baseline":"middle","fontSize":9},"encoding":{"x":{"datum":-9.34},"y":{"datum":186.8},"text":{"value":"Morphine"}}},
     {"mark":{"type":"point","filled":true,"size":28,"opacity":1,"color":"#cc3fcc"},"encoding":{"x":{"datum":-9.57},"y":{"datum":166.4}}},
     {"mark":{"type":"text","align":"left","baseline":"middle","fontSize":9},"encoding":{"x":{"datum":-9.34},"y":{"datum":166.4},"text":{"value":"BAM8-22"}}},
     {"mark":{"type":"point","filled":true,"size":28,"opacity":1,"color":"#f01e1e"},"encoding":{"x":{"datum":-9.57},"y":{"datum":151.6}}},
     {"mark":{"type":"text","align":"left","baseline":"middle","fontSize":9},"encoding":{"x":{"datum":-9.34},"y":{"datum":151.6},"text":{"value":"Morphine + BAM8-22"}}}
    ]}
  ]},
 {"width":110,"height":111,
  "layer":[
   {"data":{"name":"Cl"},"mark":{"type":"line","color":"#000","strokeWidth":1.5},
    "encoding":{
     "x":{"field":"m","type":"quantitative","scale":{"domain":[0,5],"range":[1,107],"nice":false,"zero":false},"axis":{"values":[0,1,2,3,4,5],"format":"d","tickCount":20,"labelOverlap":false,"title":"ED₅₀ of morphine (nmol)","titlePadding":5}},
     "y":{"field":"b","type":"quantitative","scale":{"domain":[0,5],"range":[111,5],"nice":false,"zero":false},"axis":{"values":[0,1,2,3,4,5],"format":"d","tickCount":20,"labelOverlap":false,"title":"ED₅₀ of BAM8-22 (nmol)","titlePadding":8}}}},
   {"data":{"name":"Cp"},"mark":{"type":"point","filled":true,"size":24,"strokeWidth":1,"opacity":1},
    "encoding":{
     "x":{"field":"m","type":"quantitative"},
     "y":{"field":"b","type":"quantitative"},
     "shape":{"field":"k","type":"nominal","scale":{"domain":["Theoretical","Experimental"],"range":["triangle-up","circle"]},"legend":null},
     "fill":{"field":"k","type":"nominal","scale":{"domain":["Theoretical","Experimental"],"range":["white","#f01e1e"]},"legend":null},
     "stroke":{"field":"k","type":"nominal","scale":{"domain":["Theoretical","Experimental"],"range":["#000","#f01e1e"]},"legend":null}}},
   {"data":{"values":[{}]},
    "layer":[
     {"mark":{"type":"text","fontSize":14,"fontWeight":"bold","color":"#000","baseline":"middle"},"encoding":{"x":{"datum":-1.7},"y":{"datum":7.78},"text":{"value":"C"}}},
     {"mark":{"type":"point","shape":"triangle-up","filled":false,"size":28,"strokeWidth":1.2,"color":"#000","opacity":1},"encoding":{"x":{"datum":0.52},"y":{"datum":7.45}}},
     {"mark":{"type":"text","align":"left","baseline":"middle","fontSize":9},"encoding":{"x":{"datum":1.04},"y":{"datum":7.45},"text":{"value":"Theoretical additive ED₅₀"}}},
     {"mark":{"type":"point","filled":true,"size":24,"color":"#f01e1e","opacity":1},"encoding":{"x":{"datum":0.52},"y":{"datum":6.71}}},
     {"mark":{"type":"text","align":"left","baseline":"middle","fontSize":9},"encoding":{"x":{"datum":1.04},"y":{"datum":6.71},"text":{"value":"Experimental ED₅₀"}}}
    ]}
  ]}
 ]},
{"bounds":"full","spacing":4,
 "resolve":{"scale":{"color":"independent","fill":"independent","stroke":"independent","shape":"independent"},"legend":{"color":"independent","fill":"independent","stroke":"independent","shape":"independent"}},
 "hconcat":[
 {"bounds":"full","spacing":9,
  "resolve":{"scale":{"color":"independent"},"legend":{"color":"independent"}},
  "vconcat":[
  {"bounds":"flush","spacing":39,"resolve":{"scale":{"color":"independent"},"legend":{"color":"independent"}},
   "hconcat":[
   {"width":90,"height":64,
    "layer":[
     {"data":{"name":"D"},"transform":[{"filter":"datum.p == 'TL'"}],"mark":{"type":"line","strokeWidth":1.1},
      "encoding":{
       "x":{"field":"t","type":"quantitative","scale":{"domain":[0,100,700,800],"range":[4,33,63,90],"nice":false,"zero":false},"axis":{"values":[0,50,100,750,800],"format":"d","tickCount":20,"labelOverlap":false,"domain":false,"title":"Time (s)","labelFontSize":6,"tickSize":2,"tickWidth":1,"titleFontSize":10,"titlePadding":0,"labelPadding":1}},
       "y":{"field":"v","type":"quantitative","scale":{"domain":[0.2,1.85],"nice":false,"zero":false},"axis":{"values":[0.6,0.8,1,1.2,1.4,1.6,1.8],"tickCount":20,"labelOverlap":false,"format":".1f","title":["Fluorescence ratio","(340/380)"],"titleFontSize":8.5,"labelFontSize":6,"tickSize":2,"tickWidth":1,"domainWidth":1.2,"offset":-4,"titlePadding":3,"titleY":19,"labelPadding":1}},
       "color":{"field":"c","type":"nominal","scale":{"domain":["c1","c2","c3"],"range":["#f01e1e","#f7a0a0","#2040e0"]},"legend":null},
       "detail":{"field":"g"}}},
     {"data":{"values":[{}]},
      "layer":[
       {"mark":{"type":"text","fontSize":14,"fontWeight":"bold","color":"#000","baseline":"middle"},"encoding":{"x":{"datum":-131},"y":{"datum":2.13},"text":{"value":"D"}}},
       {"mark":{"type":"text","fontSize":11,"fontWeight":"bold","color":"#000","baseline":"middle"},"encoding":{"x":{"datum":320},"y":{"datum":2.11},"text":{"value":"WT"}}},
       {"mark":{"type":"rule","color":"#000","strokeWidth":1.2},"encoding":{"x":{"datum":0},"x2":{"datum":100},"y":{"datum":0.2}}},
       {"mark":{"type":"rule","color":"#000","strokeWidth":1.2},"encoding":{"x":{"datum":700},"x2":{"datum":800},"y":{"datum":0.2}}},
       {"mark":{"type":"text","fontSize":7,"fontWeight":"bold","baseline":"middle"},"encoding":{"x":{"datum":34.5},"y":{"datum":2.03},"text":{"value":"Cap"}}},
       {"mark":{"type":"rule","color":"#333","strokeWidth":1.5},"encoding":{"x":{"datum":24},"x2":{"datum":45},"y":{"datum":1.93}}},
       {"mark":{"type":"text","fontSize":7,"fontWeight":"bold","baseline":"middle"},"encoding":{"x":{"datum":729.6},"y":{"datum":2.03},"text":{"value":"Cap"}}},
       {"mark":{"type":"rule","color":"#333","strokeWidth":1.5},"encoding":{"x":{"datum":718.5},"x2":{"datum":740.7},"y":{"datum":1.93}}},
       {"mark":{"type":"rule","color":"#555","strokeWidth":1},"encoding":{"x":{"datum":200},"y":{"datum":1.08},"y2":{"datum":0.74}}},
       {"mark":{"type":"rule","color":"#555","strokeWidth":1},"encoding":{"x":{"datum":620},"y":{"datum":1.08},"y2":{"datum":0.74}}},
       {"mark":{"type":"text","fontSize":6.5,"baseline":"middle"},"encoding":{"x":{"datum":410},"y":{"datum":0.91},"text":{"value":"~Wash~"}}},
       {"mark":{"type":"rect","fill":"#d9d9d9","stroke":"#444","strokeWidth":0.8},"encoding":{"x":{"datum":360},"x2":{"datum":730},"y":{"datum":0.56},"y2":{"datum":0.36}}},
       {"mark":{"type":"text","fontSize":6.5,"fontWeight":"bold","baseline":"middle"},"encoding":{"x":{"datum":610},"y":{"datum":0.46},"text":{"value":"Morphine"}}}
      ]}
    ]},
   {"width":90,"height":64,
    "layer":[
     {"data":{"name":"D"},"transform":[{"filter":"datum.p == 'TR'"}],"mark":{"type":"line","strokeWidth":1.1},
      "encoding":{
       "x":{"field":"t","type":"quantitative","scale":{"domain":[0,100,700,800],"range":[0,29,56,86],"nice":false,"zero":false},"axis":{"values":[0,50,100,750,800],"format":"d","tickCount":20,"labelOverlap":false,"domain":false,"title":"Time (s)","labelFontSize":6,"tickSize":2,"tickWidth":1,"titleFontSize":10,"titlePadding":0,"labelPadding":1}},
       "y":{"field":"v","type":"quantitative","scale":{"domain":[0.2,1.85],"nice":false,"zero":false},"axis":{"values":[0.6,0.8,1,1.2,1.4,1.6,1.8],"tickCount":20,"labelOverlap":false,"format":".1f","title":null,"labelFontSize":6,"tickSize":2,"tickWidth":1,"domainWidth":1.2,"labelPadding":1}},
       "color":{"field":"c","type":"nominal","scale":{"domain":["c1","c2","c3"],"range":["#f01e1e","#f7a0a0","#2040e0"]},"legend":null},
       "detail":{"field":"g"}}},
     {"data":{"values":[{}]},
      "layer":[
       {"mark":{"type":"text","fontSize":11,"fontWeight":"bold","color":"#000","baseline":"middle"},"encoding":{"x":{"datum":344},"y":{"datum":2.11},"text":{"value":"WT"}}},
       {"mark":{"type":"rule","color":"#000","strokeWidth":1.2},"encoding":{"x":{"datum":0},"x2":{"datum":100},"y":{"datum":0.2}}},
       {"mark":{"type":"rule","color":"#000","strokeWidth":1.2},"encoding":{"x":{"datum":700},"x2":{"datum":800},"y":{"datum":0.2}}},
       {"mark":{"type":"text","fontSize":7,"fontWeight":"bold","baseline":"middle"},"encoding":{"x":{"datum":38},"y":{"datum":2.03},"text":{"value":"Cap"}}},
       {"mark":{"type":"rule","color":"#333","strokeWidth":1.5},"encoding":{"x":{"datum":27.6},"x2":{"datum":48.3},"y":{"datum":1.93}}},
       {"mark":{"type":"text","fontSize":7,"fontWeight":"bold","baseline":"middle"},"encoding":{"x":{"datum":736.7},"y":{"datum":2.03},"text":{"value":"Cap"}}},
       {"mark":{"type":"rule","color":"#333","strokeWidth":1.5},"encoding":{"x":{"datum":726.7},"x2":{"datum":746.7},"y":{"datum":1.93}}},
       {"mark":{"type":"rule","color":"#555","strokeWidth":1},"encoding":{"x":{"datum":211},"y":{"datum":1.08},"y2":{"datum":0.74}}},
       {"mark":{"type":"rule","color":"#555","strokeWidth":1},"encoding":{"x":{"datum":677},"y":{"datum":1.08},"y2":{"datum":0.74}}},
       {"mark":{"type":"text","fontSize":6.5,"baseline":"middle"},"encoding":{"x":{"datum":444},"y":{"datum":0.91},"text":{"value":"~Wash~"}}},
       {"mark":{"type":"rect","fill":"#d9d9d9","stroke":"#444","strokeWidth":0.8},"encoding":{"x":{"datum":300},"x2":{"datum":750},"y":{"datum":0.56},"y2":{"datum":0.36}}},
       {"mark":{"type":"text","fontSize":6.5,"fontWeight":"bold","baseline":"middle"},"encoding":{"x":{"datum":666},"y":{"datum":0.46},"text":{"value":"Mor + BAM"}}}
      ]}
    ]}
   ]},
  {"bounds":"flush","spacing":39,"resolve":{"scale":{"color":"independent"},"legend":{"color":"independent"}},
   "hconcat":[
   {"width":90,"height":64,
    "layer":[
     {"data":{"name":"D"},"transform":[{"filter":"datum.p == 'BL'"}],"mark":{"type":"line","strokeWidth":1.1},
      "encoding":{
       "x":{"field":"t","type":"quantitative","scale":{"domain":[0,100,700,800],"range":[4,33,63,90],"nice":false,"zero":false},"axis":{"values":[0,50,100,750,800],"format":"d","tickCount":20,"labelOverlap":false,"domain":false,"title":"Time (s)","labelFontSize":6,"tickSize":2,"tickWidth":1,"titleFontSize":10,"titlePadding":0,"labelPadding":1}},
       "y":{"field":"v","type":"quantitative","scale":{"domain":[0.2,1.85],"nice":false,"zero":false},"axis":{"values":[0.6,0.8,1,1.2,1.4,1.6,1.8],"tickCount":20,"labelOverlap":false,"format":".1f","title":["Fluorescence ratio","(340/380)"],"titleFontSize":8.5,"labelFontSize":6,"tickSize":2,"tickWidth":1,"domainWidth":1.2,"offset":-4,"titlePadding":3,"titleY":19,"labelPadding":1}},
       "color":{"field":"c","type":"nominal","scale":{"domain":["c1","c2","c3"],"range":["#f01e1e","#f7a0a0","#2040e0"]},"legend":null},
       "detail":{"field":"g"}}},
     {"data":{"values":[{}]},
      "layer":[
       {"mark":{"type":"text","fontSize":11,"fontWeight":"bold","color":"#000","baseline":"middle"},"encoding":{"x":{"datum":320},"y":{"datum":2.13},"text":{"value":"Mrg KO"}}},
       {"mark":{"type":"rule","color":"#000","strokeWidth":1.2},"encoding":{"x":{"datum":0},"x2":{"datum":100},"y":{"datum":0.2}}},
       {"mark":{"type":"rule","color":"#000","strokeWidth":1.2},"encoding":{"x":{"datum":700},"x2":{"datum":800},"y":{"datum":0.2}}},
       {"mark":{"type":"text","fontSize":7,"fontWeight":"bold","baseline":"middle"},"encoding":{"x":{"datum":34.5},"y":{"datum":2.03},"text":{"value":"Cap"}}},
       {"mark":{"type":"rule","color":"#333","strokeWidth":1.5},"encoding":{"x":{"datum":24},"x2":{"datum":45},"y":{"datum":1.93}}},
       {"mark":{"type":"text","fontSize":7,"fontWeight":"bold","baseline":"middle"},"encoding":{"x":{"datum":729.6},"y":{"datum":2.03},"text":{"value":"Cap"}}},
       {"mark":{"type":"rule","color":"#333","strokeWidth":1.5},"encoding":{"x":{"datum":718.5},"x2":{"datum":740.7},"y":{"datum":1.93}}},
       {"mark":{"type":"rule","color":"#555","strokeWidth":1},"encoding":{"x":{"datum":200},"y":{"datum":1.08},"y2":{"datum":0.74}}},
       {"mark":{"type":"rule","color":"#555","strokeWidth":1},"encoding":{"x":{"datum":620},"y":{"datum":1.08},"y2":{"datum":0.74}}},
       {"mark":{"type":"text","fontSize":6.5,"baseline":"middle"},"encoding":{"x":{"datum":410},"y":{"datum":0.91},"text":{"value":"~Wash~"}}},
       {"mark":{"type":"rect","fill":"#d9d9d9","stroke":"#444","strokeWidth":0.8},"encoding":{"x":{"datum":360},"x2":{"datum":730},"y":{"datum":0.56},"y2":{"datum":0.36}}},
       {"mark":{"type":"text","fontSize":6.5,"fontWeight":"bold","baseline":"middle"},"encoding":{"x":{"datum":610},"y":{"datum":0.46},"text":{"value":"Morphine"}}}
      ]}
    ]},
   {"width":90,"height":64,
    "layer":[
     {"data":{"name":"D"},"transform":[{"filter":"datum.p == 'BR'"}],"mark":{"type":"line","strokeWidth":1.1},
      "encoding":{
       "x":{"field":"t","type":"quantitative","scale":{"domain":[0,100,700,800],"range":[0,29,56,86],"nice":false,"zero":false},"axis":{"values":[0,50,100,750,800],"format":"d","tickCount":20,"labelOverlap":false,"domain":false,"title":"Time (s)","labelFontSize":6,"tickSize":2,"tickWidth":1,"titleFontSize":10,"titlePadding":0,"labelPadding":1}},
       "y":{"field":"v","type":"quantitative","scale":{"domain":[0.2,1.85],"nice":false,"zero":false},"axis":{"values":[0.6,0.8,1,1.2,1.4,1.6,1.8],"tickCount":20,"labelOverlap":false,"format":".1f","title":null,"labelFontSize":6,"tickSize":2,"tickWidth":1,"domainWidth":1.2,"labelPadding":1}},
       "color":{"field":"c","type":"nominal","scale":{"domain":["c1","c2","c3"],"range":["#f01e1e","#f7a0a0","#2040e0"]},"legend":null},
       "detail":{"field":"g"}}},
     {"data":{"values":[{}]},
      "layer":[
       {"mark":{"type":"text","fontSize":11,"fontWeight":"bold","color":"#000","baseline":"middle"},"encoding":{"x":{"datum":344},"y":{"datum":2.13},"text":{"value":"Mrg KO"}}},
       {"mark":{"type":"rule","color":"#000","strokeWidth":1.2},"encoding":{"x":{"datum":0},"x2":{"datum":100},"y":{"datum":0.2}}},
       {"mark":{"type":"rule","color":"#000","strokeWidth":1.2},"encoding":{"x":{"datum":700},"x2":{"datum":800},"y":{"datum":0.2}}},
       {"mark":{"type":"text","fontSize":7,"fontWeight":"bold","baseline":"middle"},"encoding":{"x":{"datum":38},"y":{"datum":2.03},"text":{"value":"Cap"}}},
       {"mark":{"type":"rule","color":"#333","strokeWidth":1.5},"encoding":{"x":{"datum":27.6},"x2":{"datum":48.3},"y":{"datum":1.93}}},
       {"mark":{"type":"text","fontSize":7,"fontWeight":"bold","baseline":"middle"},"encoding":{"x":{"datum":736.7},"y":{"datum":2.03},"text":{"value":"Cap"}}},
       {"mark":{"type":"rule","color":"#333","strokeWidth":1.5},"encoding":{"x":{"datum":726.7},"x2":{"datum":746.7},"y":{"datum":1.93}}},
       {"mark":{"type":"rule","color":"#555","strokeWidth":1},"encoding":{"x":{"datum":211},"y":{"datum":1.08},"y2":{"datum":0.74}}},
       {"mark":{"type":"rule","color":"#555","strokeWidth":1},"encoding":{"x":{"datum":677},"y":{"datum":1.08},"y2":{"datum":0.74}}},
       {"mark":{"type":"text","fontSize":6.5,"baseline":"middle"},"encoding":{"x":{"datum":444},"y":{"datum":0.91},"text":{"value":"~Wash~"}}},
       {"mark":{"type":"rect","fill":"#d9d9d9","stroke":"#444","strokeWidth":0.8},"encoding":{"x":{"datum":300},"x2":{"datum":750},"y":{"datum":0.56},"y2":{"datum":0.36}}},
       {"mark":{"type":"text","fontSize":6.5,"fontWeight":"bold","baseline":"middle"},"encoding":{"x":{"datum":666},"y":{"datum":0.46},"text":{"value":"Mor + BAM"}}}
      ]}
    ]}
   ]}
  ]},
 {"width":117,"height":155,
  "layer":[
   {"data":{"name":"Dm"},"mark":{"type":"bar","stroke":"#333","strokeWidth":0.6},
    "encoding":{
     "x":{"field":"b","type":"nominal","scale":{"domain":["1","2","3","4","5","6","7","8"],"range":[2,100],"paddingInner":0.25,"paddingOuter":0.1},"axis":{"labels":false,"ticks":false,"title":null,"domainWidth":1.5}},
     "y":{"field":"m","type":"quantitative","scale":{"domain":[0,300],"range":[155,72],"nice":false,"zero":false},"axis":{"values":[0,100,200,300],"format":"d","tickCount":20,"labelOverlap":false,"title":"Normalized response (%)","titleFontSize":8.5,"titlePadding":3,"titleY":102}},
     "fill":{"field":"g","type":"nominal","scale":{"domain":["WT","Mrg KO"],"range":["#4a90e2","#f4574c"]},"legend":{"orient":"none","legendX":17,"legendY":2,"title":null,"symbolType":"square","symbolSize":70,"labelFontSize":9.5,"rowPadding":1,"symbolStrokeColor":"#333","symbolStrokeWidth":0.5}}}},
   {"data":{"name":"Dd"},"mark":{"type":"point","filled":true,"size":6,"opacity":1},
    "encoding":{
     "x":{"field":"b","type":"nominal"},
     "xOffset":{"field":"c","type":"nominal","scale":{"paddingOuter":0.3}},
     "y":{"field":"v","type":"quantitative"},
     "color":{"field":"g","type":"nominal","scale":{"domain":["WT","Mrg KO"],"range":["#1565d8","#e01a1a"]},"legend":null}}},
   {"data":{"name":"Dm"},"mark":{"type":"rule","strokeWidth":1,"color":"#000"},"encoding":{"x":{"field":"b","type":"nominal"},"y":{"field":"m","type":"quantitative"},"y2":{"field":"hi"}}},
   {"data":{"name":"Dm"},"mark":{"type":"tick","orient":"horizontal","size":5,"thickness":1,"color":"#000"},"encoding":{"x":{"field":"b","type":"nominal"},"y":{"field":"hi","type":"quantitative"}}},
   {"data":{"name":"Dm"},"mark":{"type":"text","fontSize":10,"fontWeight":"bold","baseline":"middle","color":"#000"},"encoding":{"x":{"field":"b","type":"nominal"},"y":{"datum":-35},"text":{"field":"bam"}}},
   {"data":{"name":"Dm"},"mark":{"type":"text","fontSize":10,"fontWeight":"bold","baseline":"middle","color":"#000"},"encoding":{"x":{"field":"b","type":"nominal"},"y":{"datum":-78},"text":{"field":"mor"}}},
   {"data":{"values":[{}]},
    "layer":[
     {"mark":{"type":"text","align":"right","dx":-10,"baseline":"middle","fontSize":8.5},"encoding":{"x":{"datum":"1"},"y":{"datum":-35},"text":{"value":"BAM8-22"}}},
     {"mark":{"type":"text","align":"right","dx":-10,"baseline":"middle","fontSize":8.5},"encoding":{"x":{"datum":"1"},"y":{"datum":-78},"text":{"value":"Morphine"}}},
     {"mark":{"type":"rule","color":"#222","strokeWidth":1},"encoding":{"x":{"datum":"4","bandPosition":1.13},"y":{"datum":0},"y2":{"datum":-95}}},
     {"mark":{"type":"text","angle":90,"fontSize":9,"fontWeight":"bold","baseline":"middle","color":"#000"},"encoding":{"x":{"datum":"7"},"y":{"datum":322},"text":{"value":"***"}}},
     {"mark":{"type":"text","fontSize":8,"fontWeight":"bold","fontStyle":"italic","baseline":"middle","color":"#000"},"encoding":{"x":{"datum":"8","bandPosition":0},"y":{"datum":385},"text":{"value":"###"}}},
     {"mark":{"type":"rule","color":"#222","strokeWidth":1},"encoding":{"x":{"datum":"7"},"x2":{"datum":"8"},"y":{"datum":365}}},
     {"mark":{"type":"rule","color":"#222","strokeWidth":1},"encoding":{"x":{"datum":"7"},"y":{"datum":365},"y2":{"datum":340}}},
     {"mark":{"type":"rule","color":"#222","strokeWidth":1},"encoding":{"x":{"datum":"8"},"y":{"datum":365},"y2":{"datum":290}}}
    ]}
  ]},
 {"width":129,"height":173,
  "layer":[
   {"data":{"name":"E"},
    "encoding":{
     "x":{"field":"d","type":"quantitative","scale":{"domain":[1,10.4],"range":[0,118],"nice":false,"zero":false},"axis":{"values":[1,2,3,4,5,6,7,8,9,10],"format":"d","tickCount":20,"labelOverlap":false,"title":"Time (day)","labelFontSize":10,"titleFontSize":11,"titlePadding":0,"tickSize":3,"labelPadding":1}},
     "y":{"field":"v","type":"quantitative","scale":{"domain":[-3,100],"range":[165.1,58],"nice":false,"zero":false},"axis":{"values":[0,20,40,60,80,100],"format":"d","tickCount":20,"labelOverlap":false,"title":"Heat antinociception (% MPE)","labelFontSize":10,"titleFontSize":11,"titlePadding":17,"tickSize":4}},
     "color":{"field":"g","type":"nominal","scale":{"domain":["WT","KO"],"range":["#f02020","#2828f0"]},"legend":null}},
    "layer":[
     {"mark":{"type":"line","strokeWidth":2}},
     {"mark":{"type":"rule","strokeWidth":1.5},"encoding":{"y":{"field":"lo","type":"quantitative"},"y2":{"field":"hi"}}},
     {"mark":{"type":"tick","orient":"horizontal","size":5,"thickness":1.5},"encoding":{"y":{"field":"hi","type":"quantitative"}}},
     {"mark":{"type":"tick","orient":"horizontal","size":5,"thickness":1.5},"encoding":{"y":{"field":"lo","type":"quantitative"}}},
     {"mark":{"type":"point","filled":true,"size":30,"strokeWidth":1.5,"opacity":1},"encoding":{
       "color":{"value":"white"},
       "stroke":{"field":"g","type":"nominal","scale":{"domain":["WT","KO"],"range":["#f02020","#2828f0"]},"legend":null},
       "shape":{"field":"g","type":"nominal","scale":{"domain":["WT","KO"],"range":["square","circle"]},"legend":null}}}
    ]},
   {"data":{"values":[{}]},
    "layer":[
     {"mark":{"type":"text","fontSize":14,"fontWeight":"bold","color":"#000","baseline":"middle"},"encoding":{"x":{"datum":-3.7},"y":{"datum":167.3},"text":{"value":"E"}}},
     {"mark":{"type":"text","fontSize":8.8,"baseline":"middle"},"encoding":{"x":{"datum":4.19},"y":{"datum":157},"text":{"value":"Morphine (15 mg/kg/day, s.c., 6 days)"}}},
     {"mark":{"type":"text","fontSize":12,"fontWeight":"bold","color":"#000","baseline":"middle"},"encoding":{"x":{"datum":5.7},"y":{"datum":122.5},"text":{"value":"*"}}},
     {"mark":{"type":"rule","color":"#222","strokeWidth":1},"encoding":{"x":{"datum":6.26},"y":{"datum":131.7},"y2":{"datum":118.3}}},
     {"mark":{"type":"rule","color":"#222","strokeWidth":1},"encoding":{"x":{"datum":6.26},"x2":{"datum":6.42},"y":{"datum":131.7}}},
     {"mark":{"type":"rule","color":"#222","strokeWidth":1},"encoding":{"x":{"datum":6.26},"x2":{"datum":6.42},"y":{"datum":118.3}}},
     {"mark":{"type":"rule","color":"#222","strokeWidth":1},"encoding":{"x":{"datum":6.1},"x2":{"datum":6.26},"y":{"datum":125}}},
     {"mark":{"type":"point","shape":"square","filled":false,"size":30,"strokeWidth":1.5,"color":"#f02020","opacity":1},"encoding":{"x":{"datum":6.9},"y":{"datum":131.7}}},
     {"mark":{"type":"text","align":"left","baseline":"middle","fontSize":9},"encoding":{"x":{"datum":7.45},"y":{"datum":131.7},"text":{"value":"WT"}}},
     {"mark":{"type":"point","shape":"circle","filled":false,"size":30,"strokeWidth":1.5,"color":"#2828f0","opacity":1},"encoding":{"x":{"datum":6.9},"y":{"datum":118.3}}},
     {"mark":{"type":"text","align":"left","baseline":"middle","fontSize":9},"encoding":{"x":{"datum":7.45},"y":{"datum":118.3},"text":{"value":"Mrg KO"}}}
    ]}
  ]},
 {"width":120,"height":172,
  "layer":[
   {"data":{"name":"F"},
    "encoding":{
     "x":{"field":"d","type":"quantitative","scale":{"domain":[1,10.4],"range":[1,119],"nice":false,"zero":false},"axis":{"values":[1,2,3,4,5,6,7,8,9,10],"format":"d","tickCount":20,"labelOverlap":false,"title":"Time (day)","labelFontSize":10,"titleFontSize":11,"titlePadding":0,"tickSize":3,"labelPadding":1}},
     "y":{"field":"v","type":"quantitative","scale":{"domain":[-3,100],"range":[170.2,62],"nice":false,"zero":false},"axis":{"values":[0,20,40,60,80,100],"format":"d","tickCount":20,"labelOverlap":false,"title":"Heat antinociception (% MPE)","labelFontSize":10,"titleFontSize":11,"titlePadding":8,"tickSize":4}},
     "color":{"field":"g","type":"nominal","scale":{"domain":["Veh","BAM"],"range":["#f02020","#33e033"]},"legend":null}},
    "layer":[
     {"mark":{"type":"line","strokeWidth":2}},
     {"mark":{"type":"rule","strokeWidth":1.5},"encoding":{"y":{"field":"lo","type":"quantitative"},"y2":{"field":"hi"}}},
     {"mark":{"type":"tick","orient":"horizontal","size":5,"thickness":1.5},"encoding":{"y":{"field":"hi","type":"quantitative"}}},
     {"mark":{"type":"tick","orient":"horizontal","size":5,"thickness":1.5},"encoding":{"y":{"field":"lo","type":"quantitative"}}},
     {"mark":{"type":"point","filled":true,"size":30,"strokeWidth":1.5,"opacity":1},"encoding":{
       "color":{"field":"g","type":"nominal","scale":{"domain":["Veh","BAM"],"range":["white","#33e033"]},"legend":null},
       "stroke":{"field":"g","type":"nominal","scale":{"domain":["Veh","BAM"],"range":["#f02020","#33e033"]},"legend":null},
       "shape":{"field":"g","type":"nominal","scale":{"domain":["Veh","BAM"],"range":["square","circle"]},"legend":null}}}
    ]},
   {"data":{"values":[{}]},
    "layer":[
     {"mark":{"type":"text","fontSize":14,"fontWeight":"bold","color":"#000","baseline":"middle"},"encoding":{"x":{"datum":-3.14},"y":{"datum":170.5},"text":{"value":"F"}}},
     {"mark":{"type":"text","fontSize":8.8,"baseline":"middle"},"encoding":{"x":{"datum":4.66},"y":{"datum":159},"text":{"value":"Morphine (15 mg/kg/day, s.c., 6 days)"}}},
     {"mark":{"type":"point","shape":"square","filled":false,"size":30,"strokeWidth":1.5,"color":"#f02020","opacity":1},"encoding":{"x":{"datum":0.44},"y":{"datum":133.3}}},
     {"mark":{"type":"text","align":"left","baseline":"middle","fontSize":9},"encoding":{"x":{"datum":1.0},"y":{"datum":133.3},"text":{"value":"Vehicle"}}},
     {"mark":{"type":"point","shape":"circle","filled":true,"size":30,"color":"#33e033","opacity":1},"encoding":{"x":{"datum":6.25},"y":{"datum":133.3}}},
     {"mark":{"type":"text","align":"left","baseline":"middle","fontSize":9},"encoding":{"x":{"datum":6.9},"y":{"datum":133.3},"text":{"value":"BAM8-22"}}},
     {"mark":{"type":"text","fontSize":9.5,"baseline":"middle"},"encoding":{"x":{"datum":5.86},"y":{"datum":107},"text":{"value":"Drug injection"}}},
     {"mark":{"type":"rule","color":"#000","strokeWidth":1.5},"encoding":{"x":{"datum":5},"y":{"datum":97},"y2":{"datum":89}}},
     {"mark":{"type":"rule","color":"#000","strokeWidth":1.5},"encoding":{"x":{"datum":6},"y":{"datum":97},"y2":{"datum":89}}},
     {"mark":{"type":"point","shape":"triangle-down","filled":true,"size":22,"color":"#000","opacity":1},"encoding":{"x":{"datum":5},"y":{"datum":88.5}}},
     {"mark":{"type":"point","shape":"triangle-down","filled":true,"size":22,"color":"#000","opacity":1},"encoding":{"x":{"datum":6},"y":{"datum":88.5}}},
     {"mark":{"type":"text","angle":90,"fontSize":11,"fontWeight":"bold","color":"#000","baseline":"middle"},"encoding":{"x":{"datum":6},"y":{"datum":75.2},"text":{"value":"**"}}},
     {"mark":{"type":"text","angle":90,"fontSize":11,"fontWeight":"bold","color":"#000","baseline":"middle"},"encoding":{"x":{"datum":7},"y":{"datum":56.2},"text":{"value":"**"}}}
    ]}
  ]}
 ]}
]
}
